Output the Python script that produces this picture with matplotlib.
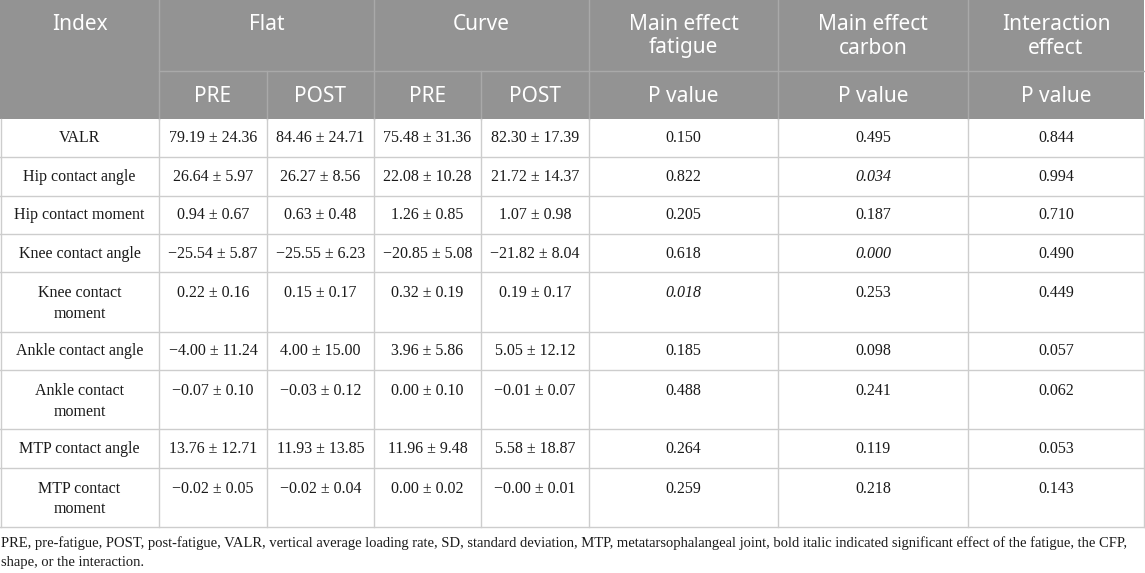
import matplotlib
matplotlib.use("Agg")
import matplotlib.pyplot as plt

# ---------------- data ----------------
index_labels = ["VALR", "Hip contact angle", "Hip contact moment", "Knee contact angle",
                "Knee contact\nmoment", "Ankle contact angle", "Ankle contact\nmoment",
                "MTP contact angle", "MTP contact\nmoment"]
flat_pre = ["79.19 ± 24.36", "26.64 ± 5.97", "0.94 ± 0.67", "−25.54 ± 5.87", "0.22 ± 0.16",
            "−4.00 ± 11.24", "−0.07 ± 0.10", "13.76 ± 12.71", "−0.02 ± 0.05"]
flat_post = ["84.46 ± 24.71", "26.27 ± 8.56", "0.63 ± 0.48", "−25.55 ± 6.23", "0.15 ± 0.17",
             "4.00 ± 15.00", "−0.03 ± 0.12", "11.93 ± 13.85", "−0.02 ± 0.04"]
curve_pre = ["75.48 ± 31.36", "22.08 ± 10.28", "1.26 ± 0.85", "−20.85 ± 5.08", "0.32 ± 0.19",
             "3.96 ± 5.86", "0.00 ± 0.10", "11.96 ± 9.48", "0.00 ± 0.02"]
curve_post = ["82.30 ± 17.39", "21.72 ± 14.37", "1.07 ± 0.98", "−21.82 ± 8.04", "0.19 ± 0.17",
              "5.05 ± 12.12", "−0.01 ± 0.07", "5.58 ± 18.87", "−0.00 ± 0.01"]
p_fatigue = ["0.150", "0.822", "0.205", "0.618", "0.018", "0.185", "0.488", "0.264", "0.259"]
p_carbon = ["0.495", "0.034", "0.187", "0.000", "0.253", "0.098", "0.241", "0.119", "0.218"]
p_interaction = ["0.844", "0.994", "0.710", "0.490", "0.449", "0.057", "0.062", "0.053", "0.143"]
italic_fatigue = [False, False, False, False, True, False, False, False, False]
italic_carbon = [False, True, False, True, False, False, False, False, False]
italic_interaction = [False] * 9

header_top = ["Index", "Flat", "Curve", "Main effect\nfatigue", "Main effect\ncarbon", "Interaction\neffect"]
header_sub = ["PRE", "POST", "PRE", "POST", "P value", "P value", "P value"]

footnote_lines = [
    "PRE, pre-fatigue, POST, post-fatigue, VALR, vertical average loading rate, SD, standard deviation, MTP, metatarsophalangeal joint, bold italic indicated significant effect of the fatigue, the CFP,",
    "shape, or the interaction.",
]

# ---------------- layout ----------------
W, H = 1145, 573
fig = plt.figure(figsize=(W / 100, H / 100), dpi=100)
ax = fig.add_axes([0, 0, 1, 1])
ax.set_xlim(0, W)
ax.set_ylim(H, 0)
ax.axis("off")

col_edges = [0, 159, 267, 374, 481, 589, 778, 968, 1144]
HDR_BG = "#939393"
HDR_LINE = "#a9a9a9"
GRID = "#cdcdcd"
TXT = "#1a1a1a"
hdr_font = ["Noto Sans", "DejaVu Sans"]
body_font = ["Liberation Serif", "DejaVu Serif"]

hdr_sep = 71
hdr_bottom = 119
table_bottom = 527

# header background
ax.add_patch(plt.Rectangle((0, 0), col_edges[-1], hdr_bottom, facecolor=HDR_BG, edgecolor="none"))
# header lines
ax.plot([col_edges[1], col_edges[-1]], [hdr_sep, hdr_sep], color=HDR_LINE, lw=1)
for x in [159, 374, 589, 778, 968]:
    ax.plot([x, x], [0, hdr_bottom], color=HDR_LINE, lw=1)
for x in [267, 481]:
    ax.plot([x, x], [hdr_sep, hdr_bottom], color=HDR_LINE, lw=1)

# header text
hdr_fs = 15.0
top_spans = [(0, 159), (159, 374), (374, 589), (589, 778), (778, 968), (968, 1144)]
for (a, b), t in zip(top_spans, header_top):
    for k, part in enumerate(t.split("\n")):
        ax.text((a + b) / 2, 25 + 23 * k, part, ha="center", va="center", color="white",
                fontsize=hdr_fs, family=hdr_font)
for i, t in enumerate(header_sub):
    a, b = col_edges[i + 1], col_edges[i + 2]
    ax.text((a + b) / 2, 96, t, ha="center", va="center", color="white",
            fontsize=hdr_fs, family=hdr_font)

# body rows
n_lines = [lab.count("\n") + 1 for lab in index_labels]
n_double = sum(1 for n in n_lines if n > 1)
extra = 21.0
single_h = (table_bottom - hdr_bottom - n_double * extra) / len(n_lines)
row_tops = []
y = hdr_bottom
for n in n_lines:
    row_tops.append(y)
    y += single_h + (extra if n > 1 else 0)
row_bottoms = row_tops[1:] + [table_bottom]

for yb in row_bottoms:
    ax.plot([0, col_edges[-1]], [yb, yb], color=GRID, lw=1)
for x in col_edges:
    xx = max(x, 0.5)
    ax.plot([xx, xx], [hdr_bottom, table_bottom], color=GRID, lw=1)

value_cols = [flat_pre, flat_post, curve_pre, curve_post, p_fatigue, p_carbon, p_interaction]
italic_cols = [[False] * 9] * 4 + [italic_fatigue, italic_carbon, italic_interaction]
body_fs = 11.5
for r, lab in enumerate(index_labels):
    top, bot = row_tops[r], row_bottoms[r]
    parts = lab.split("\n")
    if len(parts) == 1:
        ax.text(79.5, top + 19.5, parts[0], ha="center", va="center",
                color=TXT, fontsize=body_fs, family=body_font)
    else:
        for k, part in enumerate(parts):
            ax.text(79.5, top + 21 + 20.5 * k, part, ha="center", va="center",
                    color=TXT, fontsize=body_fs, family=body_font)
    vy = top + 19.5 if n_lines[r] == 1 else top + 21
    for c, (vals, ital) in enumerate(zip(value_cols, italic_cols)):
        a, b = col_edges[c + 1], col_edges[c + 2]
        ax.text((a + b) / 2, vy, vals[r], ha="center", va="center", color=TXT,
                fontsize=body_fs, family=body_font,
                style="italic" if ital[r] else "normal")

# footnote (first line fitted to the text width)
fn_fs = 10.55
for i, line in enumerate(footnote_lines):
    ax.text(1, 543 + 19.5 * i, line, ha="left", va="center", color=TXT,
            fontsize=fn_fs, family=body_font)

fig.savefig("out.png", dpi=100)
